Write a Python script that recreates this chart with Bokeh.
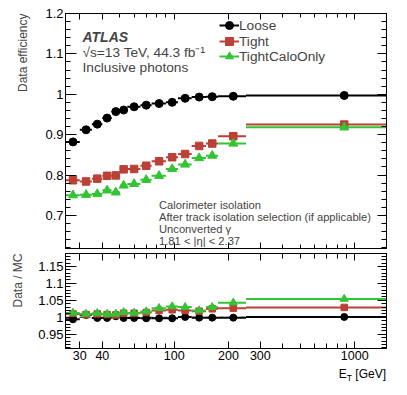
import numpy as np
from bokeh.plotting import figure
from bokeh.models import (Range1d, FixedTicker, LogAxis, LinearAxis, Label, Legend,
                          LegendItem, Span, ColumnDataSource, Title, Div)
from bokeh.layouts import column
from bokeh.embed import file_html
from bokeh.resources import INLINE

# ---------------- data ----------------
bin_edges = [25, 30, 35, 40, 45, 50, 55, 65, 75, 90, 105, 125, 150, 175, 250, 1500]
bin_centers = [27.5, 32.5, 37.5, 42.5, 47.5, 52.5, 60, 70, 82.5, 97.5, 115, 137.5, 162.5, 212.5, 875]

eff_loose = [0.882, 0.912, 0.926, 0.941, 0.957, 0.961, 0.969, 0.973, 0.977, 0.980,
             0.990, 0.993, 0.994, 0.995, 0.997]
eff_tight = [0.787, 0.784, 0.791, 0.798, 0.799, 0.814, 0.815, 0.823, 0.834, 0.844,
             0.852, 0.872, 0.878, 0.896, 0.925]
eff_calo = [0.750, 0.751, 0.753, 0.762, 0.757, 0.774, 0.778, 0.788, 0.798, 0.815,
            0.826, 0.842, 0.848, 0.878, 0.918]

ratio_loose = [0.994, 1.007, 0.998, 0.998, 1.003, 0.998, 0.998, 0.997, 0.997, 0.997,
               1.001, 0.999, 0.999, 0.999, 1.001]
ratio_tight = [1.010, 1.008, 1.010, 1.008, 1.007, 1.012, 1.012, 1.014, 1.020, 1.022,
               1.020, 1.018, 1.025, 1.027, 1.029]
ratio_calo = [1.013, 1.010, 1.012, 1.010, 1.010, 1.015, 1.013, 1.017, 1.027, 1.032,
              1.030, 1.020, 1.030, 1.043, 1.054]

series_names = ["Loose", "Tight", "TightCaloOnly"]
series_colors = ["#000000", "#bb4035", "#33c433"]
series_markers = ["circle", "square", "triangle"]

x_tick_values = [30, 40, 100, 200, 300, 1000]
x_tick_labels = ["30", "40", "100", "200", "300", "1000"]
x_minor_values = [50, 60, 70, 80, 90, 400, 500, 600, 700, 800, 900]

top_y_ticks = [0.7, 0.8, 0.9, 1.0, 1.1, 1.2]
top_y_labels = ["0.7", "0.8", "0.9", "1", "1.1", "1.2"]
bot_y_ticks = [0.95, 1.0, 1.05, 1.1, 1.15]
bot_y_labels = ["0.95", "1", "1.05", "1.1", "1.15"]

info_lines = ["Calorimeter isolation",
              "After track isolation selection (if applicable)",
              "Unconverted γ",
              "1.81 < |η| < 2.37"]

FONT = "Liberation Sans"

x_range = Range1d(25, 1500)
top_minor = [round(v, 3) for v in np.arange(0.62, 1.2001, 0.02)]
bot_minor = [round(v, 3) for v in np.arange(0.91, 1.1801, 0.01)]


def style_axis(ax, ticker, labels, font_size, tick_in, minor_in, standoff):
    ax.ticker = ticker
    ax.major_tick_in = tick_in
    ax.major_tick_out = 0
    ax.minor_tick_in = minor_in
    ax.minor_tick_out = 0
    ax.axis_line_color = "black"
    ax.major_tick_line_color = "black"
    ax.minor_tick_line_color = "black"
    ax.major_label_text_font = FONT
    ax.major_label_standoff = standoff
    if labels is None:
        ax.major_label_text_font_size = "0px"
        ax.major_label_text_color = None
        ax.major_label_standoff = 0
    else:
        ax.major_label_text_color = "black"
        ax.major_label_text_font_size = font_size
        ax.major_label_overrides = labels


def make_fig(ymin, ymax, fh, top, bottom):
    p = figure(x_axis_type="log", x_range=x_range, y_range=Range1d(ymin, ymax),
               frame_width=321, frame_height=fh,
               min_border_left=65, min_border_right=15,
               min_border_top=top, min_border_bottom=bottom,
               toolbar_location=None, output_backend="svg")
    p.xgrid.visible = False
    p.ygrid.visible = False
    p.outline_line_color = "black"
    p.outline_line_width = 1
    p.background_fill_color = "white"
    p.border_fill_color = "white"
    return p


def draw_series(p, yvals, color, marker, size):
    src = ColumnDataSource(dict(x=bin_centers, y=yvals,
                                lo=bin_edges[:-1], hi=bin_edges[1:]))
    seg = p.segment(x0="lo", y0="y", x1="hi", y1="y", source=src,
                    line_color=color, line_width=2)
    sc = p.scatter(x="x", y="y", source=src, marker=marker, size=size,
                   fill_color=color, line_color=color)
    return [seg, sc]


# ---------------- top panel ----------------
p1 = make_fig(0.618, 1.2, 235, 13, 3)
x_ticker = FixedTicker(ticks=x_tick_values, minor_ticks=x_minor_values)
x_labels = dict(zip(x_tick_values, x_tick_labels))
ty_ticker = FixedTicker(ticks=top_y_ticks, minor_ticks=top_minor)
ty_labels = dict(zip(top_y_ticks, top_y_labels))

style_axis(p1.xaxis[0], x_ticker, None, None, 6, 4, 0)
style_axis(p1.yaxis[0], ty_ticker, ty_labels, "13px", 11, 5, 2)
ax_top = LogAxis()
style_axis(ax_top, x_ticker, None, None, 6, 4, 0)
p1.add_layout(ax_top, "above")
ax_r = LinearAxis()
style_axis(ax_r, ty_ticker, None, None, 9, 5, 0)
p1.add_layout(ax_r, "right")

sizes_top = [8, 7.5, 9]
effs = [eff_loose, eff_tight, eff_calo]
legend_bottoms = [213, 197, 182]
for name, col, mk, sz, ev, lb in zip(series_names, series_colors, series_markers,
                                     sizes_top, effs, legend_bottoms):
    r = draw_series(p1, ev, col, mk, sz)
    lg = Legend(items=[LegendItem(label=name, renderers=r)], location=(154, lb),
                padding=0, margin=0, spacing=0,
                glyph_width=20, glyph_height=20, label_height=14, label_standoff=0,
                label_text_font=FONT, label_text_font_size="13.7px",
                background_fill_alpha=0, border_line_alpha=0)
    p1.add_layout(lg)

p1.add_layout(Label(x=17, y=211.3, x_units="screen", y_units="screen", text="ATLAS",
                    text_font=FONT, text_font_size="14px", text_font_style="bold italic",
                    text_baseline="alphabetic"))
p1.add_layout(Label(x=17, y=196.5, x_units="screen", y_units="screen",
                    text="√s=13 TeV, 44.3 fb⁻¹",
                    text_font=FONT, text_font_size="13.7px", text_baseline="alphabetic"))
p1.add_layout(Label(x=17, y=181.3, x_units="screen", y_units="screen",
                    text="Inclusive photons",
                    text_font=FONT, text_font_size="13.7px", text_baseline="alphabetic"))
for txt, yy in zip(info_lines, [44, 31.5, 19.5, 7.5]):
    p1.add_layout(Label(x=93.5, y=yy, x_units="screen", y_units="screen", text=txt,
                        text_font=FONT, text_font_size="11.2px", text_baseline="alphabetic"))
p1.add_layout(Title(text="Data efficiency", align="right", vertical_align="top",
                    standoff=22, text_font=FONT, text_font_size="12px",
                    text_font_style="normal"),
              "left")

# ---------------- bottom panel ----------------
p2 = make_fig(0.908, 1.188, 95, 2, 17)
by_ticker = FixedTicker(ticks=bot_y_ticks, minor_ticks=bot_minor)
by_labels = dict(zip(bot_y_ticks, bot_y_labels))
style_axis(p2.xaxis[0], x_ticker, x_labels, "12.5px", 7, 5, 2)
style_axis(p2.yaxis[0], by_ticker, by_labels, "13px", 11, 5, 2)
ax_top2 = LogAxis()
style_axis(ax_top2, x_ticker, None, None, 7, 5, 0)
p2.add_layout(ax_top2, "above")
ax_r2 = LinearAxis()
style_axis(ax_r2, by_ticker, None, None, 9, 5, 0)
p2.add_layout(ax_r2, "right")

p2.add_layout(Span(location=1.0, dimension="width", line_color="black",
                   line_dash="4 3", line_width=1, level="underlay"))
ratios = [ratio_loose, ratio_tight, ratio_calo]
sizes_bot = [7, 6.5, 8]
for col, mk, sz, rv in zip(series_colors, series_markers, sizes_bot, ratios):
    draw_series(p2, rv, col, mk, sz)

p2.add_layout(Title(text="Data / MC", align="right", vertical_align="top",
                    standoff=18, text_font=FONT, text_font_size="12px",
                    text_font_style="normal"),
              "left")

xtitle = Div(text='E<sub style="font-size:8.5px;line-height:0;">T</sub> [GeV]',
             width=386, height=22, margin=(0, 0, 0, 0),
             styles={"text-align": "right", "font-family": FONT, "font-size": "12px",
                     "line-height": "14px", "color": "black", "padding-top": "2px"})

layout = column(p1, p2, xtitle)
open("out.html", "w").write(file_html(layout, INLINE))
